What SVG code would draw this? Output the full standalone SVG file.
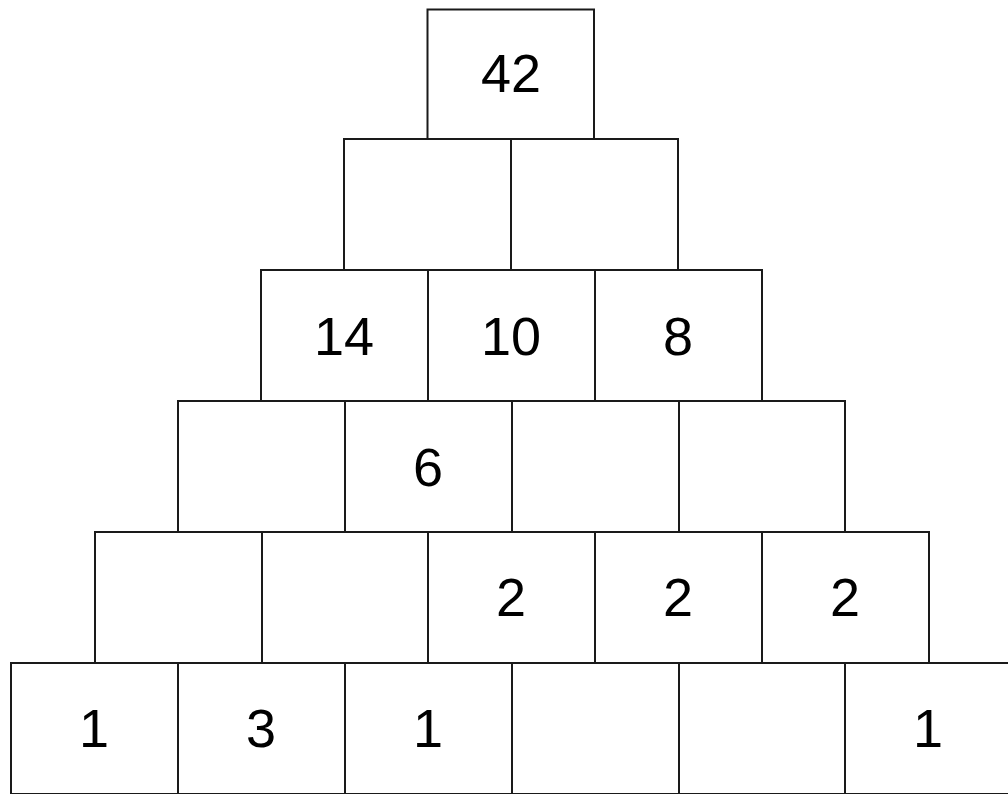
<svg xmlns="http://www.w3.org/2000/svg" width="1008" height="794" viewBox="0 0 1008 794">
<style>
rect{fill:#fff;stroke:#1a1a1a;stroke-width:2}
text{font-family:"Liberation Sans",Arial,sans-serif;font-size:54px;fill:#000;text-anchor:middle}
</style>
<rect x="0" y="0" width="1008" height="794" style="stroke:none"/>
<g id="row5">
<rect x="11" y="663" width="167" height="131"/>
<rect x="178" y="663" width="167" height="131"/>
<rect x="345" y="663" width="167" height="131"/>
<rect x="512" y="663" width="167" height="131"/>
<rect x="679" y="663" width="166" height="131"/>
<rect x="845" y="663" width="167" height="131"/>
<text x="94" y="747">1</text>
<text x="261" y="747">3</text>
<text x="428" y="747">1</text>
<text x="928" y="747">1</text>
</g>
<g id="row4">
<rect x="95" y="532" width="167" height="131"/>
<rect x="262" y="532" width="166" height="131"/>
<rect x="428" y="532" width="167" height="131"/>
<rect x="595" y="532" width="167" height="131"/>
<rect x="762" y="532" width="167" height="131"/>
<text x="511" y="616">2</text>
<text x="678" y="616">2</text>
<text x="845" y="616">2</text>
</g>
<g id="row3">
<rect x="178" y="401" width="167" height="131"/>
<rect x="345" y="401" width="167" height="131"/>
<rect x="512" y="401" width="167" height="131"/>
<rect x="679" y="401" width="166" height="131"/>
<text x="428" y="486">6</text>
</g>
<g id="row2">
<rect x="261" y="270" width="167" height="131"/>
<rect x="428" y="270" width="167" height="131"/>
<rect x="595" y="270" width="167" height="131"/>
<text x="344" y="355">14</text>
<text x="511" y="355">10</text>
<text x="678" y="355">8</text>
</g>
<g id="row1">
<rect x="344" y="139" width="167" height="131"/>
<rect x="511" y="139" width="167" height="131"/>
</g>
<g id="row0">
<rect x="427.5" y="9.5" width="166.5" height="129.5"/>
<text x="511" y="92">42</text>
</g>
</svg>
